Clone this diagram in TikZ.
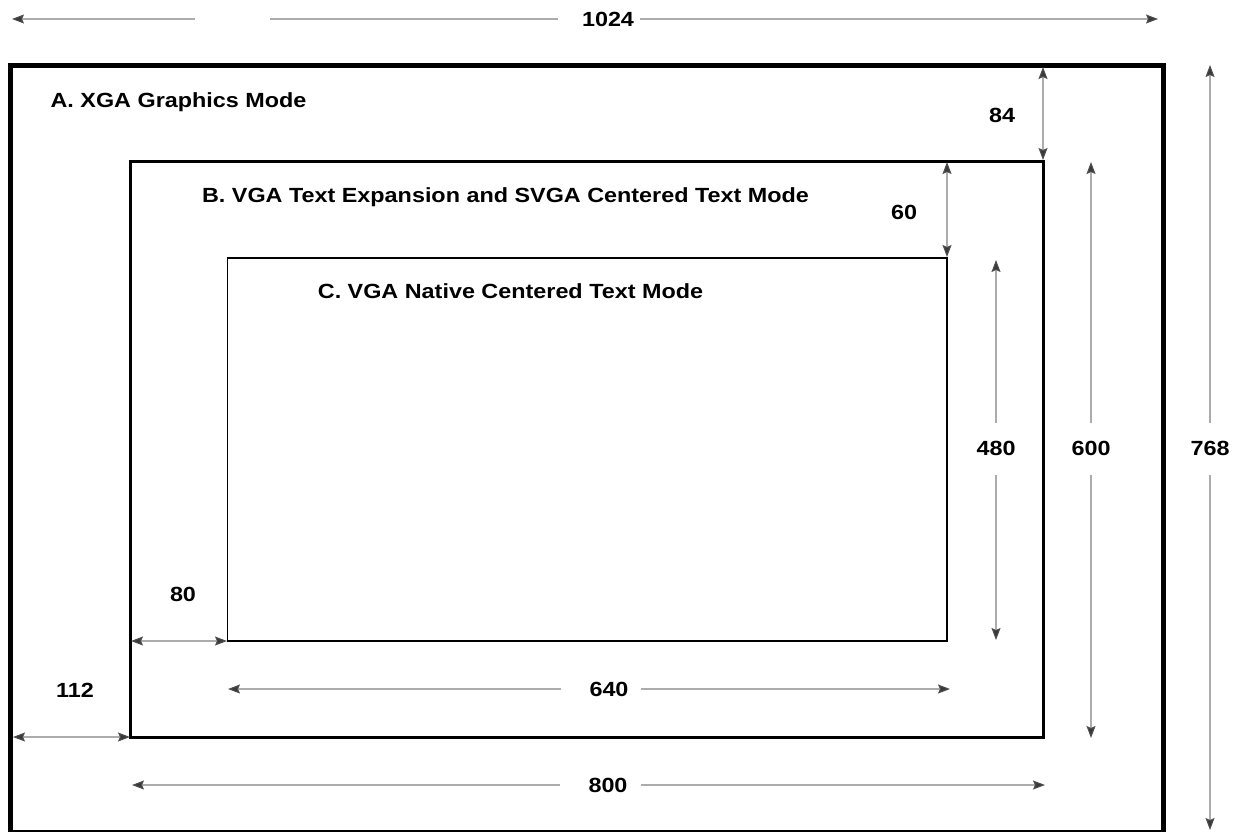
\documentclass[tikz,border=0pt]{standalone}
\usepackage{fontspec}
\setmainfont{Liberation Sans}
\usetikzlibrary{arrows.meta}
\newcommand\mylbl[1]{\scalebox{1.14}[1]{#1}}
\tikzset{
  dimtip/.tip={Stealth[length=12pt,width=9pt,inset=2pt,color=gray!60!black,fill=gray!45!black]},
  dimline/.style={draw=gray!65, line width=1.1pt},
  dimarrow/.style={dimline, -dimtip},
  dimboth/.style={dimline, dimtip-dimtip},
  lbl/.style={font=\fontsize{20.5}{24}\selectfont\bfseries, inner sep=0pt, anchor=base},
  frameA/.style={draw=black, line width=5pt},
  frameB/.style={draw=black, line width=3pt},
  frameC/.style={draw=black, line width=1.8pt}
}
\begin{document}
\begin{tikzpicture}[x=1pt,y=-1pt]
\useasboundingbox (0,0) rectangle (1245,831);
% frames
\coordinate (Atl) at (10.5,65.5);  \coordinate (Abr) at (1163.5,832);
\coordinate (Btl) at (130.5,161.5); \coordinate (Bbr) at (1043,737);
\coordinate (Ctl) at (227.5,258);   \coordinate (Cbr) at (947,641);
\draw[frameA] (Atl) rectangle (Abr);
\draw[frameB] (Btl) rectangle (Bbr);
\draw[frameC] (Ctl) rectangle (Cbr);
% titles
\node[lbl] (tA) at (178.5,107) {\mylbl{A. XGA Graphics Mode}};
\node[lbl] (tB) at (505.5,202) {\mylbl{B. VGA Text Expansion and SVGA Centered Text Mode}};
\node[lbl] (tC) at (510.5,298) {\mylbl{C. VGA Native Centered Text Mode}};
% dimension labels
\node[lbl] (n84)  at (1002,122) {\mylbl{84}};
\node[lbl] (n60)  at (904,219)  {\mylbl{60}};
\node[lbl] (n80)  at (183,601)  {\mylbl{80}};
\node[lbl] (n112) at (75,697)   {\mylbl{112}};
\node[lbl] (n480) at (996,455)  {\mylbl{480}};
\node[lbl] (n600) at (1091,455) {\mylbl{600}};
\node[lbl] (n768) at (1210,455) {\mylbl{768}};
\node[lbl] (n640) at (609,696)  {\mylbl{640}};
\node[lbl] (n800) at (608,792)  {\mylbl{800}};
\node[lbl] (n1024) at (608,26)  {\mylbl{1024}};
% arrow end coordinates
\coordinate (a84t) at (1043,67);   \coordinate (a84b) at (1043,160);
\coordinate (a60t) at (947,162);   \coordinate (a60b) at (947,257);
\coordinate (a80l) at (131,641);   \coordinate (a80r) at (227,641);
\coordinate (a112l) at (13,737);   \coordinate (a112r) at (130,737);
\coordinate (a480t) at (996,260);  \coordinate (a480m1) at (996,423);
\coordinate (a480m2) at (996,475); \coordinate (a480b) at (996,640);
\coordinate (a600t) at (1091,162); \coordinate (a600m1) at (1091,423);
\coordinate (a600m2) at (1091,475);\coordinate (a600b) at (1091,738);
\coordinate (a768t) at (1210,65);  \coordinate (a768m1) at (1210,423);
\coordinate (a768m2) at (1210,475);\coordinate (a768b) at (1210,830);
\coordinate (a640l) at (228,689);  \coordinate (a640m1) at (561,689);
\coordinate (a640m2) at (641,689); \coordinate (a640r) at (950,689);
\coordinate (a800l) at (132,785);  \coordinate (a800m1) at (560,785);
\coordinate (a800m2) at (641,785); \coordinate (a800r) at (1045,785);
\coordinate (a1024l) at (12,19);   \coordinate (a1024m0) at (195,19);
\coordinate (a1024m1) at (270,19); \coordinate (a1024m2) at (558,19);
\coordinate (a1024m3) at (640,19); \coordinate (a1024r) at (1158,19);
% arrows
\draw[dimboth] (a84t) -- (a84b);
\draw[dimboth] (a60t) -- (a60b);
\draw[dimboth] (a80l) -- (a80r);
\draw[dimboth] (a112l) -- (a112r);
\draw[dimarrow] (a480m1) -- (a480t);
\draw[dimarrow] (a480m2) -- (a480b);
\draw[dimarrow] (a600m1) -- (a600t);
\draw[dimarrow] (a600m2) -- (a600b);
\draw[dimarrow] (a768m1) -- (a768t);
\draw[dimarrow] (a768m2) -- (a768b);
\draw[dimarrow] (a640m1) -- (a640l);
\draw[dimarrow] (a640m2) -- (a640r);
\draw[dimarrow] (a800m1) -- (a800l);
\draw[dimarrow] (a800m2) -- (a800r);
\draw[dimarrow] (a1024m0) -- (a1024l);
\draw[dimline] (a1024m1) -- (a1024m2);
\draw[dimarrow] (a1024m3) -- (a1024r);
\end{tikzpicture}
\end{document}
